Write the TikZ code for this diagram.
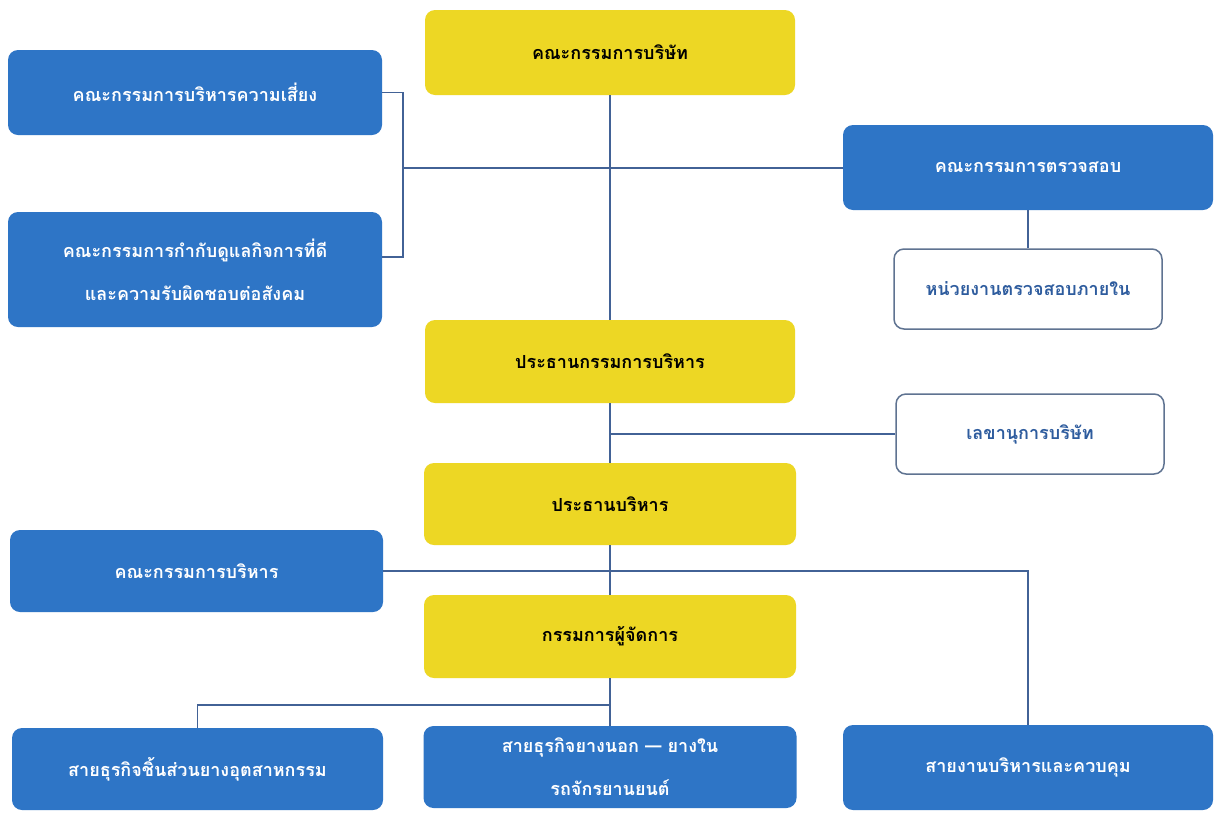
\documentclass[tikz,border=0pt]{standalone}
\usepackage{fontspec}
\setmainfont[Script=Thai]{Loma}
\definecolor{cblue}{RGB}{46,117,198}
\definecolor{cyellow}{RGB}{237,215,36}
\definecolor{cline}{RGB}{66,98,150}
\definecolor{cborder}{RGB}{95,115,145}
\definecolor{ctext}{RGB}{46,92,158}
\tikzset{
  base/.style={rounded corners=10pt, align=center, font=\fontsize{18}{43}\selectfont\bfseries, inner sep=4pt},
  bluebox/.style={base, fill=cblue, text=white},
  yellowbox/.style={base, fill=cyellow, text=black},
  whitebox/.style={base, draw=cborder, line width=1.5pt, fill=white, text=ctext},
  conn/.style={draw=cline, line width=1.4pt},
}
\begin{document}
\begin{tikzpicture}[x=1pt,y=-1pt]
\useasboundingbox[fill=white] (0,0) rectangle (1215,812);
\coordinate (brk) at (403,168);
\coordinate (cgjoin) at (382,257);
\coordinate (split) at (610,705);
\node[yellowbox, minimum width=370pt, minimum height=85pt] (board) at (610,52.5) {คณะกรรมการบริษัท};
\node[bluebox, minimum width=374pt, minimum height=85pt] (risk) at (195,92.5) {คณะกรรมการบริหารความเสี่ยง};
\node[bluebox, minimum width=374pt, minimum height=115pt] (cg) at (195,269.5) {คณะกรรมการกำกับดูแลกิจการที่ดี\\และความรับผิดชอบต่อสังคม};
\node[bluebox, minimum width=370pt, minimum height=85pt] (audit) at (1028,167.5) {คณะกรรมการตรวจสอบ};
\node[whitebox, minimum width=268pt, minimum height=80pt] (ia) at (1028,289) {หน่วยงานตรวจสอบภายใน};
\node[yellowbox, minimum width=370pt, minimum height=83pt] (chair) at (610,361.5) {ประธานกรรมการบริหาร};
\node[whitebox, minimum width=268pt, minimum height=80pt] (sec) at (1030,434) {เลขานุการบริษัท};
\node[yellowbox, minimum width=372pt, minimum height=82pt] (ceo) at (610,504) {ประธานบริหาร};
\node[bluebox, minimum width=373pt, minimum height=82pt] (exc) at (196.5,571) {คณะกรรมการบริหาร};
\node[yellowbox, minimum width=372pt, minimum height=83pt] (md) at (610,636.5) {กรรมการผู้จัดการ};
\node[bluebox, minimum width=371pt, minimum height=82pt] (bl) at (197.5,769) {สายธุรกิจชิ้นส่วนยางอุตสาหกรรม};
\node[bluebox, minimum width=373pt, minimum height=82pt] (bm) at (610,767) {สายธุรกิจยางนอก — ยางใน\\รถจักรยานยนต์};
\node[bluebox, minimum width=370pt, minimum height=85pt] (br) at (1028,767.5) {สายงานบริหารและควบคุม};
\draw[conn] (board.south) -- (chair.north);
\draw[conn] (chair.south) -- (ceo.north);
\draw[conn] (ceo.south) -- (md.north);
\draw[conn] (md.south) -- (bm.north);
\draw[conn] (risk.east) -| (brk) |- (cgjoin);
\draw[conn] (brk) -- (brk -| audit.west);
\draw[conn] (audit.south) -- (ia.north);
\draw[conn] (sec.west) -- (sec.west -| chair.south);
\draw[conn] (exc.east) -| (br.north);
\draw[conn] (split) -| (bl.north);
\end{tikzpicture}
\end{document}
